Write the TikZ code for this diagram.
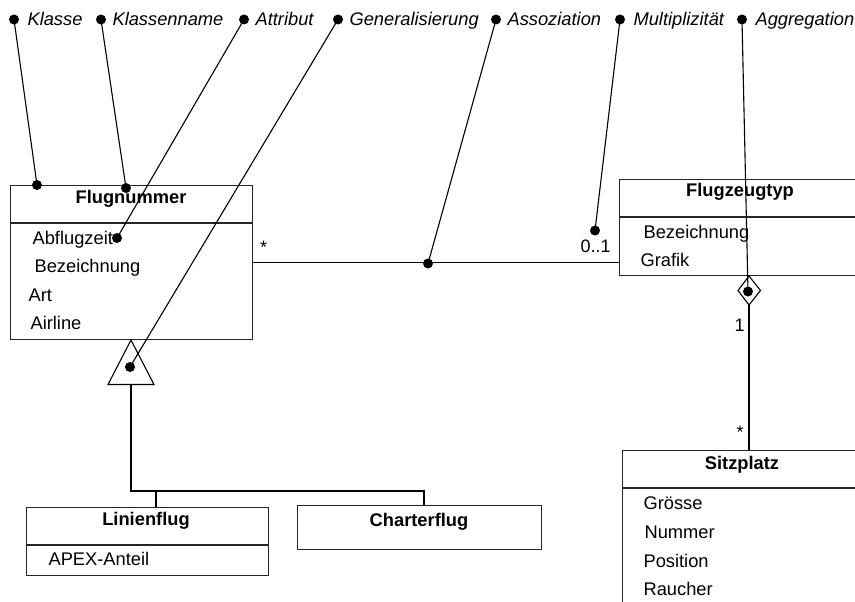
\documentclass[tikz,border=0pt]{standalone}
\usepackage{fontspec}
\setmainfont{Liberation Sans}
\begin{document}
\begin{tikzpicture}[x=1pt,y=-1pt,
  line width=1.1pt,
  box/.style={draw=black!85, line width=1.1pt, inner sep=0, anchor=north west},
  sep/.style={draw=black!85, line width=1.1pt},
  lbl/.style={font=\itshape\fontsize{18.3}{21}\selectfont, anchor=base west, inner sep=0},
  attr/.style={font=\fontsize{18.3}{21}\selectfont, anchor=base west, inner sep=0},
  ttl/.style={font=\bfseries\fontsize{18.3}{21}\selectfont, anchor=base, inner sep=0},
  mult/.style={font=\fontsize{18}{21}\selectfont, anchor=base west, inner sep=0},
  dot/.style={circle, fill=black, inner sep=0, minimum size=10pt},
  conn/.style={draw=black, line width=1.1pt}
]
\useasboundingbox (0,0) rectangle (855,602);
\fill[white] (0,0) rectangle (855,602);
\clip (0,0) rectangle (855,602);

% ---------- classes ----------
\node[box, minimum width=242, minimum height=154] (fn) at (10,185) {};
\draw[sep] (10,223) -- (252,223);
\node[ttl] (fnt) at (131,203) {Flugnummer};
\node[attr] (fa1) at (32,244) {Abflugzeit};
\node[attr] (fa2) at (34,272.5) {Bezeichnung};
\node[attr] (fa3) at (28,301) {Art};
\node[attr] (fa4) at (30,329) {Airline};

\node[box, minimum width=242, minimum height=96] (fz) at (619,179) {};
\draw[sep] (619,217) -- (861,217);
\node[ttl] (fzt) at (740,196.5) {Flugzeugtyp};
\node[attr] (fza1) at (643,238) {Bezeichnung};
\node[attr] (fza2) at (640,266.5) {Grafik};

\node[box, minimum width=242, minimum height=200] (sp) at (622,450) {};
\draw[sep] (622,488) -- (864,488);
\node[ttl] (spt) at (742,469) {Sitzplatz};
\node[attr] (spa1) at (643,509) {Grösse};
\node[attr] (spa2) at (644,538) {Nummer};
\node[attr] (spa3) at (643,567) {Position};
\node[attr] (spa4) at (643,595.5) {Raucher};

\node[box, minimum width=242, minimum height=68] (lf) at (25.5,507) {};
\draw[sep] (25.5,545) -- (267.5,545);
\node[ttl] (lft) at (146,525.5) {Linienflug};
\node[attr] (lfa1) at (48,565) {APEX-Anteil};

\node[box, minimum width=244, minimum height=44] (cf) at (297,505) {};
\node[ttl] (cft) at (419,526) {Charterflug};

% ---------- generalisation ----------
\coordinate (gtop) at (131,340);
\coordinate (gl) at (108,384.5);
\coordinate (gr) at (154,384.5);
\coordinate (gbase) at (131,384.5);
\coordinate (gj) at (131,491);
\coordinate (gjl) at (156,491);
\coordinate (gjc) at (424,491);
\draw[conn] (gtop) -- (gr) -- (gl) -- cycle;
\draw[conn] (gbase) -- (gj) -- (gjc) -- (gjc |- cf.north);
\draw[conn] (gjl) -- (gjl |- lf.north);

% ---------- association ----------
\draw[conn] (fn.east |- 0,262.5) -- (fz.west |- 0,262.5);
\node[mult] (m1) at (259.5,253) {*};
\node[mult] (m2) at (580,252.5) {0..1};

% ---------- aggregation ----------
\coordinate (dtop) at (749,276);
\coordinate (dleft) at (738,290.5);
\coordinate (dright) at (760.5,290.5);
\coordinate (dbot) at (749,305);
\draw[conn, fill=white] (dtop) -- (dright) -- (dbot) -- (dleft) -- cycle;
\draw[conn] (dbot) -- (dbot |- sp.north);
\node[mult] (m3) at (734,331) {1};
\node[mult] (m4) at (736,438) {*};

% ---------- legend labels ----------
\node[dot] (lk) at (14,19.5) {};
\node[lbl] (tk) at (27,26) {Klasse};
\node[dot] (lkn) at (101,19.5) {};
\node[lbl] (tkn) at (112,26) {Klassenname};
\node[dot] (la) at (244,19.5) {};
\node[lbl] (ta) at (255,26) {Attribut};
\node[dot] (lg) at (338,19.5) {};
\node[lbl] (tg) at (349,26) {Generalisierung};
\node[dot] (las) at (496,19.5) {};
\node[lbl] (tas) at (507,26) {Assoziation};
\node[dot] (lm) at (620,19.5) {};
\node[lbl] (tm) at (633,26) {Multiplizität};
\node[dot] (lag) at (742,19.5) {};
\node[lbl] (tag) at (755,26) {Aggregation};

% ---------- target dots ----------
\node[dot] (pk) at (37,185) {};
\node[dot] (pkn) at (126,188) {};
\node[dot] (pa) at (117,238) {};
\node[dot] (pg) at (130,367) {};
\node[dot] (pas) at (428,263.5) {};
\node[dot] (pm) at (595,230.5) {};
\node[dot] (pag) at (748,291.5) {};

% ---------- leader lines ----------
\draw[conn] (lk.center) -- (pk.center);
\draw[conn] (lkn.center) -- (pkn.center);
\draw[conn] (la.center) -- (pa.center);
\draw[conn] (lg.center) -- (pg.center);
\draw[conn] (las.center) -- (pas.center);
\draw[conn] (lm.center) -- (pm.center);
\draw[conn] (lag.center) -- (pag.center);
\end{tikzpicture}
\end{document}
